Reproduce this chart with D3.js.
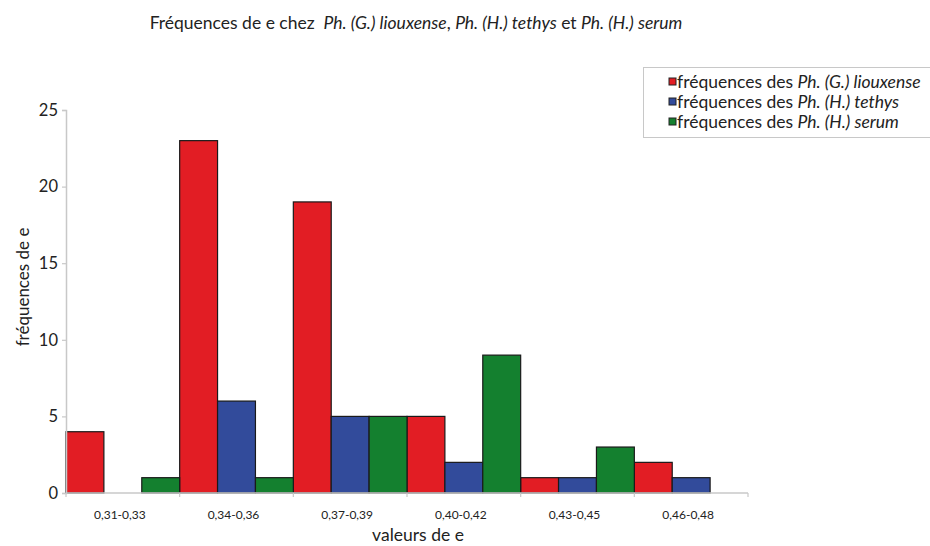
<!DOCTYPE html>
<html>
<head>
<meta charset="utf-8">
<script src="https://cdn.jsdelivr.net/npm/d3@7"></script>
<style>
  html, body { margin: 0; padding: 0; background: #fff; }
  svg { display: block; font-family: Lato, "Open Sans", sans-serif; }
</style>
</head>
<body>
<svg id="chart" width="930" height="546"></svg>
<script>
// Classes of e and counts per species
const categories = ["0,31-0,33", "0,34-0,36", "0,37-0,39", "0,40-0,42", "0,43-0,45", "0,46-0,48"];
const liouxense = [4, 23, 19, 5, 1, 2];
const tethys = [0, 6, 5, 2, 1, 1];
const serum = [1, 1, 5, 9, 3, 0];
const yTicks = [0, 5, 10, 15, 20, 25];

const seriesNames = [
  ["fréquences des ", "Ph. (G.) liouxense"],
  ["fréquences des ", "Ph. (H.) tethys"],
  ["fréquences des ", "Ph. (H.) serum"]
];
const colors = ["#e21d24", "#324b9b", "#14802f"];
const series = [liouxense, tethys, serum];

const svg = d3.select("#chart");
const plotLeft = 66, plotRight = 748, plotTop = 110, plotBottom = 493;

const x = d3.scaleBand().domain(categories).range([plotLeft, plotRight]).padding(0);
const xs = d3.scaleBand().domain(d3.range(series.length)).range([0, x.bandwidth()]).padding(0);
const y = d3.scaleLinear().domain([0, 25]).range([plotBottom, plotTop]);

// Title with italic species names
const title = svg.append("text").attr("x", 416).attr("y", 29)
  .attr("text-anchor", "middle").attr("font-size", 17.5).attr("fill", "#222")
  .attr("xml:space", "preserve");
[["Fréquences de e chez  ", false], ["Ph. (G.) liouxense", true], [", ", false],
 ["Ph. (H.) tethys", true], [" et ", false], ["Ph. (H.) serum", true]]
  .forEach(([t, it]) => title.append("tspan").attr("font-style", it ? "italic" : "normal").text(t));

// Bars
series.forEach((vals, si) => {
  svg.append("g").selectAll("rect")
    .data(categories.map((c, i) => ({ c, v: vals[i] })).filter(d => d.v > 0))
    .join("rect")
    .attr("x", d => x(d.c) + xs(si))
    .attr("width", xs.bandwidth())
    .attr("y", d => y(d.v))
    .attr("height", d => y(0) - y(d.v))
    .attr("fill", colors[si])
    .attr("stroke", "#1a1a1a")
    .attr("stroke-width", 1.2);
});

// Y axis
const yAxis = svg.append("g").attr("transform", `translate(${plotLeft},0)`)
  .call(d3.axisLeft(y).tickValues(yTicks).tickSize(4).tickPadding(4));
yAxis.select(".domain").attr("stroke", "#c8c8c8").attr("stroke-width", 1.5);
yAxis.selectAll(".tick line").attr("stroke", "#c8c8c8").attr("stroke-width", 1.2);
yAxis.selectAll(".tick text").attr("font-size", 16.5).attr("fill", "#222")
  .attr("font-family", "Lato, sans-serif");

// X axis: ticks at class boundaries, labels centred in each class
const xAxisG = svg.append("g").attr("transform", `translate(0,${plotBottom})`);
xAxisG.append("line").attr("x1", plotLeft).attr("x2", plotRight).attr("y1", 0).attr("y2", 0)
  .attr("stroke", "#c8c8c8").attr("stroke-width", 1.5);
xAxisG.selectAll("line.tk").data(categories.concat([null]))
  .join("line").attr("class", "tk")
  .attr("x1", (d, i) => i < categories.length ? x(d) : plotRight)
  .attr("x2", (d, i) => i < categories.length ? x(d) : plotRight)
  .attr("y1", 0).attr("y2", 4)
  .attr("stroke", "#c8c8c8").attr("stroke-width", 1.2);
xAxisG.selectAll("text").data(categories).join("text")
  .attr("x", d => x(d) + x.bandwidth() / 2 - 3)
  .attr("y", 26)
  .attr("text-anchor", "middle").attr("font-size", 12).attr("fill", "#222")
  .text(d => d);

// Axis titles
svg.append("text").attr("x", 418).attr("y", 541).attr("text-anchor", "middle")
  .attr("font-size", 17.5).attr("fill", "#222").text("valeurs de e");
svg.append("text").attr("transform", "translate(29,287) rotate(-90)")
  .attr("text-anchor", "middle").attr("font-size", 17).attr("fill", "#222").text("fréquences de e");

// Legend
const lg = svg.append("g");
lg.append("rect").attr("x", 643.5).attr("y", 67.5).attr("width", 300).attr("height", 70)
  .attr("fill", "#fff").attr("stroke", "#c8c8c8").attr("stroke-width", 1);
seriesNames.forEach((nm, i) => {
  const cy = 82 + i * 20;
  lg.append("rect").attr("x", 669).attr("y", cy - 4).attr("width", 7).attr("height", 7)
    .attr("fill", colors[i]).attr("stroke", "#222").attr("stroke-width", 1);
  const t = lg.append("text").attr("x", 677).attr("y", cy + 5.5).attr("font-size", 17.5)
    .attr("fill", "#222").attr("xml:space", "preserve");
  t.append("tspan").text(nm[0]);
  t.append("tspan").attr("font-style", "italic").text(nm[1]);
});
</script>
</body>
</html>
